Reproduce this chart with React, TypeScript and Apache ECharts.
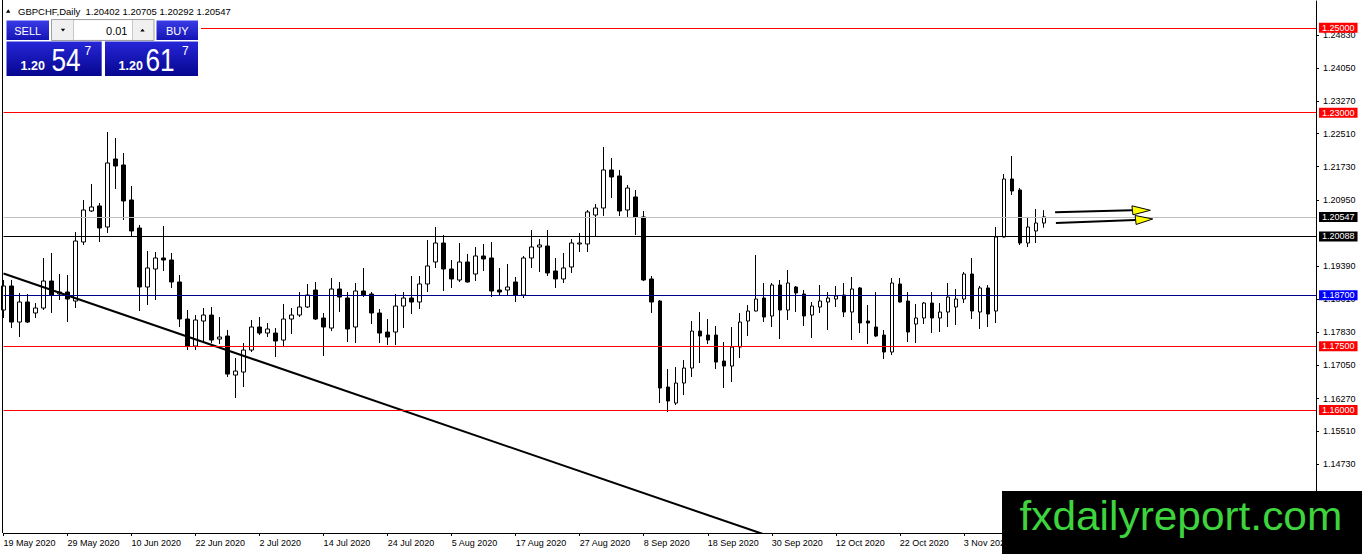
import React, { useEffect, useRef } from 'react';
import * as echarts from 'echarts';

// ---- data ----
const opens = [
  1.18354, 1.18920, 1.18071, 1.18543, 1.18284, 1.18401, 1.19037, 1.18731, 1.18778, 1.18566,
  1.19956, 1.20686, 1.20804, 1.20309, 1.21910, 1.21769, 1.20945, 1.20285, 1.18896, 1.19320,
  1.19579, 1.19532, 1.19014, 1.18142, 1.17506, 1.18095, 1.18236, 1.17671, 1.17742, 1.16823,
  1.16894, 1.17412, 1.17954, 1.17812, 1.17812, 1.17647, 1.18142, 1.18236, 1.18425, 1.18825,
  1.18166, 1.17930, 1.18849, 1.18637, 1.17954, 1.18802, 1.18731, 1.18284, 1.17836, 1.17836,
  1.18448, 1.18637, 1.18543, 1.18967, 1.19485, 1.19932, 1.19320, 1.19061, 1.19485, 1.19202,
  1.19626, 1.19579, 1.18825, 1.18825, 1.19014, 1.18708, 1.19579, 1.19838, 1.19861, 1.19273,
  1.19085, 1.19367, 1.19909, 1.19909, 1.20591, 1.20756, 1.21651, 1.21510, 1.20709, 1.21016,
  1.20545, 1.19085, 1.18566, 1.16541, 1.16164, 1.16635, 1.16988, 1.17859, 1.17765, 1.17765,
  1.17153, 1.17035, 1.17482, 1.18095, 1.18331, 1.18637, 1.18213, 1.18943, 1.18354, 1.18896,
  1.18731, 1.18236, 1.18425, 1.18543, 1.18613, 1.18708, 1.18307, 1.18873, 1.18095, 1.17954,
  1.17765, 1.17365, 1.18967, 1.18566, 1.18024, 1.18166, 1.18519, 1.18166, 1.18307, 1.18425,
  1.18613, 1.19202, 1.18307, 1.18873, 1.18331, 1.20073, 1.21439, 1.21180, 1.19932, 1.20215,
  1.20402,
];
const closes = [
  1.18920, 1.18071, 1.18543, 1.18071, 1.18401, 1.19037, 1.18708, 1.18778, 1.18613, 1.19979,
  1.20709, 1.20780, 1.20285, 1.21816, 1.21745, 1.20921, 1.20215, 1.18896, 1.19344, 1.19579,
  1.19532, 1.19014, 1.18142, 1.17506, 1.18119, 1.18236, 1.17647, 1.17718, 1.16846, 1.16917,
  1.17412, 1.17954, 1.17812, 1.17907, 1.17624, 1.18142, 1.18236, 1.18425, 1.18708, 1.18142,
  1.17954, 1.18849, 1.18660, 1.17907, 1.18802, 1.18708, 1.18284, 1.17812, 1.17718, 1.18448,
  1.18637, 1.18543, 1.18967, 1.19391, 1.19932, 1.19320, 1.19085, 1.19485, 1.19014, 1.19626,
  1.19556, 1.18802, 1.18778, 1.18896, 1.18708, 1.19579, 1.19838, 1.19885, 1.19226, 1.19085,
  1.19344, 1.19932, 1.19932, 1.20662, 1.20756, 1.21651, 1.21486, 1.20686, 1.21227, 1.20545,
  1.19061, 1.18543, 1.16517, 1.16211, 1.16635, 1.16988, 1.17859, 1.17742, 1.17647, 1.17129,
  1.17035, 1.17482, 1.18071, 1.18331, 1.18613, 1.18189, 1.18943, 1.18354, 1.18990, 1.18755,
  1.18213, 1.18448, 1.18566, 1.18637, 1.18684, 1.18307, 1.18849, 1.18048, 1.18048, 1.17742,
  1.17365, 1.18990, 1.18543, 1.17836, 1.18166, 1.18519, 1.18166, 1.18307, 1.18660, 1.18613,
  1.19202, 1.18331, 1.18873, 1.18260, 1.20073, 1.21439, 1.21157, 1.19932, 1.20309, 1.20403,
  1.20547,
];
const lows = [
  1.18166, 1.17930, 1.17718, 1.18048, 1.18166, 1.18354, 1.18284, 1.18590, 1.18071, 1.18401,
  1.19885, 1.20662, 1.19956, 1.20168, 1.21204, 1.20474, 1.20097, 1.18331, 1.18472, 1.18590,
  1.19273, 1.18873, 1.17954, 1.17412, 1.17412, 1.17600, 1.17577, 1.17553, 1.16776, 1.16282,
  1.16541, 1.17365, 1.17765, 1.17718, 1.17247, 1.17482, 1.17789, 1.18189, 1.18401, 1.18119,
  1.17270, 1.17859, 1.18307, 1.17600, 1.17577, 1.18660, 1.18024, 1.17577, 1.17530, 1.17530,
  1.17930, 1.18260, 1.18378, 1.18778, 1.19344, 1.18802, 1.18873, 1.19014, 1.19000, 1.19037,
  1.19273, 1.18660, 1.18708, 1.18708, 1.18543, 1.18637, 1.19344, 1.19250, 1.19155, 1.18873,
  1.18990, 1.19226, 1.19721, 1.19721, 1.20073, 1.20568, 1.20992, 1.20568, 1.20545, 1.20121,
  1.19037, 1.18284, 1.16164, 1.15952, 1.16117, 1.16352, 1.16776, 1.17106, 1.17553, 1.16964,
  1.16517, 1.16658, 1.17223, 1.17742, 1.18320, 1.18071, 1.17954, 1.17671, 1.18119, 1.18307,
  1.17977, 1.17695, 1.18284, 1.17883, 1.18425, 1.18189, 1.17647, 1.17812, 1.17553, 1.17718,
  1.17200, 1.17294, 1.18530, 1.17600, 1.17577, 1.18024, 1.17812, 1.17836, 1.17954, 1.18001,
  1.18519, 1.18142, 1.17907, 1.17954, 1.18048, 1.20060, 1.21063, 1.19885, 1.19838, 1.19932,
  1.20292,
];
const highs = [
  1.19061, 1.19061, 1.18755, 1.18731, 1.18519, 1.19579, 1.19697, 1.19202, 1.19179, 1.20191,
  1.20945, 1.21321, 1.20874, 1.22546, 1.22405, 1.22051, 1.21274, 1.20356, 1.19744, 1.19721,
  1.20333, 1.19697, 1.19179, 1.18354, 1.18236, 1.18401, 1.18425, 1.18189, 1.17883, 1.17223,
  1.17577, 1.18119, 1.18189, 1.18048, 1.17930, 1.18496, 1.18401, 1.18778, 1.18967, 1.19014,
  1.18284, 1.19108, 1.19014, 1.18778, 1.18990, 1.19344, 1.18778, 1.18378, 1.18142, 1.18731,
  1.18778, 1.19155, 1.19155, 1.20003, 1.20309, 1.20121, 1.19532, 1.19932, 1.19674, 1.19838,
  1.19909, 1.19956, 1.19344, 1.19438, 1.19132, 1.19626, 1.20238, 1.20026, 1.20238, 1.19579,
  1.19697, 1.20026, 1.20168, 1.20709, 1.20851, 1.22193, 1.21934, 1.21651, 1.21298, 1.21180,
  1.20686, 1.19155, 1.18590, 1.16964, 1.17011, 1.17176, 1.18095, 1.18307, 1.18142, 1.17977,
  1.17600, 1.17954, 1.18284, 1.18472, 1.19650, 1.18990, 1.18990, 1.19061, 1.19297, 1.18920,
  1.18825, 1.18543, 1.18943, 1.18778, 1.18920, 1.18990, 1.19132, 1.18896, 1.18472, 1.18778,
  1.17883, 1.19108, 1.19108, 1.18778, 1.18496, 1.18543, 1.18778, 1.18519, 1.18990, 1.18849,
  1.19250, 1.19579, 1.18920, 1.18943, 1.20309, 1.21557, 1.21981, 1.21227, 1.20545, 1.20733,
  1.20705,
];

const firstTradingDay = '2020-05-19';
const slotCount = 165; // bars + empty chart shift on the right
const priceTicks = [
  1.2483, 1.2405, 1.2327, 1.2251, 1.2173, 1.2095, 1.1939, 1.1861, 1.1783, 1.1705,
  1.1627, 1.1551, 1.1473,
];
const priceMin = 1.13104;
const priceMax = 1.2563;
const redLevels = [1.25, 1.23, 1.175, 1.16];
const bidLevel = 1.20547;
const blackLevel = 1.20088;
const blueLevel = 1.187;
const trendPoints = [
  [0, 1.19214],
  [100, 1.1275],
];
const arrowDefs = [
  { from: [131.4, 1.20655], base: [141.0, 1.20702], tip: [143.3, 1.20702] },
  { from: [131.5, 1.20403], base: [141.4, 1.20474], tip: [143.6, 1.20497] },
];
const headerText = 'GBPCHF,Daily  1.20402 1.20705 1.20292 1.20547';
const lotText = '0.01';
const sellQuote = { big: '1.20', main: '54', pip: '7' };
const buyQuote = { big: '1.20', main: '61', pip: '7' };

const FONT = '"Liberation Sans", Arial, sans-serif';
const MONTHS = ['Jan', 'Feb', 'Mar', 'Apr', 'May', 'Jun', 'Jul', 'Aug', 'Sep', 'Oct', 'Nov', 'Dec'];

function tradingDays(start: string, count: number): string[] {
  const out: string[] = [];
  const d = new Date(start + 'T00:00:00Z');
  while (out.length < count) {
    const wd = d.getUTCDay();
    if (wd !== 0 && wd !== 6) {
      out.push(`${d.getUTCDate()} ${MONTHS[d.getUTCMonth()]} ${d.getUTCFullYear()}`);
    }
    d.setUTCDate(d.getUTCDate() + 1);
  }
  return out;
}

export default function App() {
  const ref = useRef<HTMLDivElement>(null);

  useEffect(() => {
    if (!ref.current) return;
    const chart = echarts.init(ref.current, undefined, { renderer: 'svg' });
    const categories = tradingDays(firstTradingDay, slotCount);
    const candleData = opens.map((o, i) => [o, closes[i], lows[i], highs[i]]);
    const tag = (v: number, color: string, bg: string) => ({
      yAxis: v,
      lineStyle: { color, width: 1, type: 'solid' },
      label: { backgroundColor: bg },
    });

    chart.setOption({
      animation: false,
      backgroundColor: '#ffffff',
      textStyle: { fontFamily: FONT },
      grid: { left: 3.5, top: 1, width: 1312.5, height: 532, containLabel: false },
      xAxis: {
        type: 'category',
        data: categories,
        boundaryGap: false,
        axisLine: { show: true, onZero: false, lineStyle: { color: '#000', width: 1 } },
        axisTick: { show: true, interval: 7, length: 3, lineStyle: { color: '#000' } },
        axisLabel: {
          interval: 7,
          align: 'left',
          fontSize: 9,
          color: '#000',
          margin: 5,
          fontFamily: FONT,
        },
        splitLine: { show: false },
      },
      yAxis: {
        type: 'value',
        position: 'right',
        min: priceMin,
        max: priceMax,
        splitLine: { show: false },
        axisLine: { show: true, lineStyle: { color: '#000', width: 1 } },
        axisTick: { show: true, length: 3, customValues: priceTicks, lineStyle: { color: '#000' } },
        axisLabel: {
          customValues: priceTicks,
          formatter: (v: number) => Number(v).toFixed(5),
          fontSize: 9,
          color: '#000',
          margin: 7,
          fontFamily: FONT,
        },
      },
      series: [
        {
          type: 'candlestick',
          data: candleData,
          barWidth: 4,
          clip: true,
          itemStyle: {
            color: '#ffffff',
            color0: '#000000',
            borderColor: '#000000',
            borderColor0: '#000000',
            borderWidth: 1,
          },
          markLine: {
            symbol: ['none', 'none'],
            silent: true,
            animation: false,
            precision: 5,
            label: {
              position: 'end',
              distance: 3,
              color: '#ffffff',
              fontSize: 9,
              fontFamily: FONT,
              padding: [1, 3, 0, 3],
              formatter: (p: any) => Number(p.value).toFixed(5),
            },
            emphasis: { disabled: true },
            data: [
              ...redLevels.map((v) => tag(v, '#ff0000', '#ff0000')),
              tag(bidLevel, '#c0c0c0', '#000000'),
              tag(blackLevel, '#000000', '#000000'),
              tag(blueLevel, '#000090', '#0000ff'),
            ],
          },
        },
        {
          type: 'line',
          data: trendPoints,
          symbol: 'none',
          clip: true,
          lineStyle: { color: '#000', width: 2 },
          z: 4,
        },
      ],
    });

    const px = (idx: number, price: number) => {
      const a = chart.convertToPixel({ gridIndex: 0 }, [0, price]) as number[];
      const b = chart.convertToPixel({ gridIndex: 0 }, [1, price]) as number[];
      return [a[0] + (b[0] - a[0]) * idx, a[1]];
    };

    const arrowEls: any[] = [];
    arrowDefs.forEach((ar) => {
      const f = px(ar.from[0], ar.from[1]);
      const b = px(ar.base[0], ar.base[1]);
      const t = px(ar.tip[0], ar.tip[1]);
      arrowEls.push({
        type: 'line',
        z: 50,
        shape: { x1: f[0], y1: f[1], x2: b[0], y2: b[1] },
        style: { stroke: '#000', lineWidth: 2 },
      });
      arrowEls.push({
        type: 'polygon',
        z: 51,
        shape: { points: [[b[0], b[1] - 4.5], [t[0], t[1]], [b[0] + 1, b[1] + 4.5]] },
        style: { fill: '#ffff00', stroke: '#000', lineWidth: 1 },
      });
    });

    const btnGrad = () =>
      new echarts.graphic.LinearGradient(0, 0, 0, 1, [
        { offset: 0, color: '#3b3be8' },
        { offset: 1, color: '#1414b4' },
      ]);
    const quoteGrad = () =>
      new echarts.graphic.LinearGradient(0, 0, 0, 1, [
        { offset: 0, color: '#2626d8' },
        { offset: 1, color: '#06068f' },
      ]);
    const txt = (x: number, y: number, text: string, size: number, fill: string, extra: any = {}) => ({
      type: 'text',
      z: 102,
      x,
      y,
      scaleX: extra.scaleX || 1,
      style: {
        text,
        fill,
        font: `${extra.weight || 'normal'} ${size}px ${FONT}`,
        verticalAlign: 'middle',
        align: extra.align || 'left',
      },
    });

    const panel: any[] = [
      // frame
      { type: 'line', z: 60, shape: { x1: 2.5, y1: 0, x2: 2.5, y2: 533 }, style: { stroke: '#000', lineWidth: 1 } },
      // header
      { type: 'polygon', z: 101, shape: { points: [[6, 12.7], [8.2, 9.2], [10.4, 12.7]] }, style: { fill: '#000' } },
      txt(18, 11, headerText, 9.5, '#000'),
      // panel backing
      { type: 'rect', z: 100, shape: { x: 3, y: 18, width: 198, height: 60 }, style: { fill: '#ffffff' } },
      // sell / buy buttons
      { type: 'rect', z: 101, shape: { x: 6.5, y: 20.5, width: 42.5, height: 19.5 }, style: { fill: btnGrad() } },
      txt(27.7, 30.5, 'SELL', 11, '#fff', { align: 'center' }),
      { type: 'rect', z: 101, shape: { x: 156.5, y: 20.5, width: 41.5, height: 19.5 }, style: { fill: btnGrad() } },
      txt(177.2, 30.5, 'BUY', 11, '#fff', { align: 'center' }),
      // lot box
      { type: 'rect', z: 101, shape: { x: 51.5, y: 19.5, width: 102.5, height: 21 }, style: { fill: '#f0f0f0', stroke: '#a0a0a0', lineWidth: 1 } },
      { type: 'rect', z: 101, shape: { x: 74, y: 20.5, width: 58, height: 19 }, style: { fill: '#ffffff' } },
      { type: 'line', z: 101, shape: { x1: 73.5, y1: 20, x2: 73.5, y2: 40 }, style: { stroke: '#c8c8c8', lineWidth: 1 } },
      { type: 'line', z: 101, shape: { x1: 132.5, y1: 20, x2: 132.5, y2: 40 }, style: { stroke: '#c8c8c8', lineWidth: 1 } },
      { type: 'polygon', z: 102, shape: { points: [[60.8, 28.8], [65.2, 28.8], [63, 31.4]] }, style: { fill: '#000' } },
      { type: 'polygon', z: 102, shape: { points: [[140.3, 31.4], [144.7, 31.4], [142.5, 28.8]] }, style: { fill: '#000' } },
      txt(127.5, 30.5, lotText, 11, '#000', { align: 'right' }),
      // quote panels
      { type: 'rect', z: 101, shape: { x: 6.5, y: 41.5, width: 95.2, height: 34.5 }, style: { fill: quoteGrad() } },
      { type: 'rect', z: 101, shape: { x: 105, y: 41.5, width: 93, height: 34.5 }, style: { fill: quoteGrad() } },
      txt(20.5, 66.3, sellQuote.big, 12.5, '#fff', { weight: 'bold' }),
      txt(51.5, 59.6, sellQuote.main, 32, '#fff', { scaleX: 0.82 }),
      txt(84.5, 50.8, sellQuote.pip, 12, '#fff'),
      txt(118.5, 66.3, buyQuote.big, 12.5, '#fff', { weight: 'bold' }),
      txt(145.5, 59.6, buyQuote.main, 32, '#fff', { scaleX: 0.82 }),
      txt(182, 50.8, buyQuote.pip, 12, '#fff'),
      // watermark
      { type: 'rect', z: 110, shape: { x: 1002, y: 491, width: 360, height: 63 }, style: { fill: '#000' } },
      {
        type: 'text',
        z: 111,
        x: 1019.5,
        y: 516,
        scaleX: 1.06,
        style: { text: 'fxdailyreport.com', fill: '#3ed43e', font: `40px ${FONT}`, verticalAlign: 'middle', align: 'left' },
      },
    ];

    chart.setOption({ graphic: [...panel, ...arrowEls] });

    return () => chart.dispose();
  }, []);

  return (
    <div
      ref={ref}
      style={{ position: 'absolute', left: 0, top: 0, width: 1362, height: 554, background: '#fff' }}
    />
  );
}
